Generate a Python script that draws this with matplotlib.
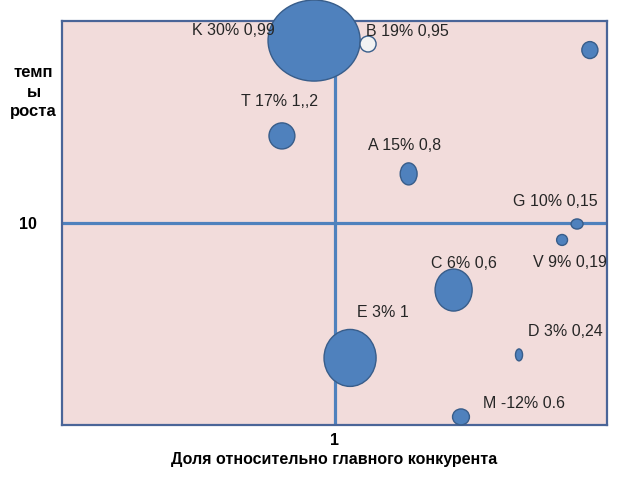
import matplotlib.pyplot as plt
from matplotlib.patches import Ellipse

plt.rcParams['font.family'] = ['Liberation Sans', 'DejaVu Sans']

# bubbles: relative share (x), growth (y), bubble width / height (data units)
names = ["K", "B", "U", "T", "A", "G", "V", "C", "E", "D", "M"]
labels = ["K 30% 0,99", "B 19% 0,95", "", "T 17% 1,,2", "A 15% 0,8",
          "G 10% 0,15", "V 9% 0,19", "C 6% 0,6", "E 3% 1", "D 3% 0,24",
          "M -12% 0.6"]
share = [0.925, 1.123, 1.937, 0.807, 1.272, 1.890, 1.835, 1.437, 1.057,
         1.677, 1.464]
growth = [19.03, 18.86, 18.56, 14.31, 12.43, 9.95, 9.16, 6.68, 3.32,
          3.47, 0.40]
bubble_w = [0.338, 0.059, 0.059, 0.095, 0.062, 0.044, 0.040, 0.136,
            0.191, 0.026, 0.062]
bubble_h = [4.01, 0.79, 0.84, 1.29, 1.09, 0.50, 0.54, 2.08, 2.82, 0.59,
            0.79]

# label offsets from bubble centre, in pixels (x right, y down)
label_off = [(-122, -10), (-2, -13), (0, 0), (-41, -34), (-41, -28),
             (-64, -22), (-29, 23), (-23, -27), (7, -45), (9, -23),
             (22, -13)]

fig = plt.figure(figsize=(6.4, 4.8), dpi=100)
ax = fig.add_axes([0.0969, 0.1146, 0.8516, 0.8417])
ax.set_facecolor('#F2DCDB')
ax.set_xlim(0, 2)
ax.set_ylim(0, 20)

for s in ax.spines.values():
    s.set_color('#4A6598')
    s.set_linewidth(1.6)

ax.axhline(10, color='#4F81BD', lw=2.3, zorder=2)
ax.axvline(1, color='#4F81BD', lw=2.3, zorder=2)

for i, n in enumerate(names):
    face = '#F2F2F2' if n == "B" else '#4F81BD'
    e = Ellipse((share[i], growth[i]), bubble_w[i], bubble_h[i],
                facecolor=face, edgecolor='#385D8A', lw=1.0,
                zorder=3, clip_on=False)
    ax.add_patch(e)
    if labels[i]:
        dx, dy = label_off[i]
        ax.annotate(labels[i], (share[i], growth[i]),
                    xytext=(dx * 0.72, -dy * 0.72),
                    textcoords='offset points', ha='left', va='center',
                    fontsize=11.5, color='#262626', zorder=4)

ax.set_xticks([1])
ax.set_xticklabels(["1"], fontweight='bold', fontsize=11.5)
ax.set_yticks([10])
ax.set_yticklabels(["10"], fontweight='bold', fontsize=11.5)
ax.tick_params(length=0, pad=6)
ax.tick_params(axis='y', pad=18)

ax.set_xlabel("Доля относительно главного конкурента",
              fontweight='bold', fontsize=11.5, labelpad=3)
ax.set_ylabel("темп\nы\nроста", rotation=0, fontweight='bold',
              fontsize=12, ha='center', va='center', linespacing=1.38)
ax.yaxis.set_label_coords(-0.052, 0.824)

fig.savefig("out.png", dpi=100)
